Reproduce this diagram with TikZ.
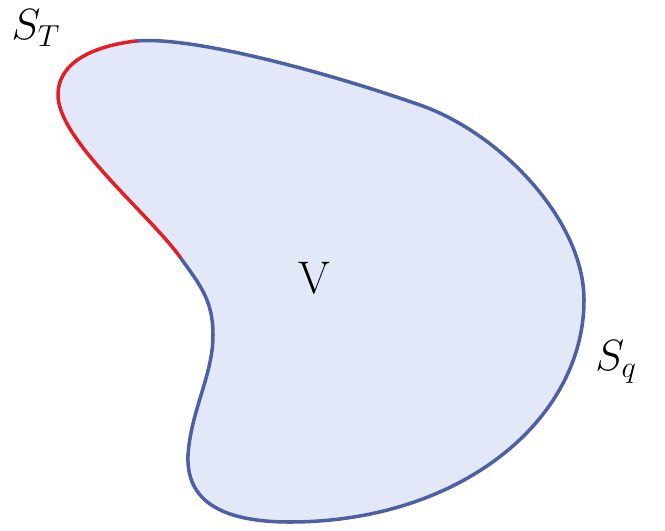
\documentclass[tikz,border=0pt]{standalone}
\usepackage{tikz}

\definecolor{regionfill}{RGB}{226,232,248}
\definecolor{edgeblue}{RGB}{78,96,164}
\definecolor{edgered}{RGB}{228,30,36}

\begin{document}
\begin{tikzpicture}[x=0.02cm, y=-0.02cm,
  edge/.style={line width=2pt, line cap=round},
  lbl/.style={font=\fontsize{26}{30}\selectfont, inner sep=0pt}]
\useasboundingbox (0,0) rectangle (665,530);
% junctions of the two boundary parts
\coordinate (top) at (136,41);
\coordinate (mid) at (180,257);
% the region V
\fill[regionfill] (top)
  .. controls (190,36) and (320,70) .. (420,105)
  .. controls (500,133) and (584,220) .. (584,300)
  .. controls (584,420) and (460,522) .. (290,522)
  .. controls (220,522) and (186,500) .. (188,455)
  .. controls (191,410) and (213,375) .. (213,335)
  .. controls (213,300) and (200,285) .. (mid)
  .. controls (150,215) and (58,140) .. (58,95)
  .. controls (58,55) and (110,44) .. (top) -- cycle;
% S_q
\draw[edge, edgeblue] (top)
  .. controls (190,36) and (320,70) .. (420,105)
  .. controls (500,133) and (584,220) .. (584,300)
  .. controls (584,420) and (460,522) .. (290,522)
  .. controls (220,522) and (186,500) .. (188,455)
  .. controls (191,410) and (213,375) .. (213,335)
  .. controls (213,300) and (200,285) .. (mid);
% S_T
\draw[edge, edgered] (mid)
  .. controls (150,215) and (58,140) .. (58,95)
  .. controls (58,55) and (110,44) .. (top);
\node[lbl] (st) at (36,28) {$S_T$};
\node[lbl] (vol) at (314,278) {V};
\node[lbl] (sq) at (616,362) {$S_q$};
\end{tikzpicture}
\end{document}
